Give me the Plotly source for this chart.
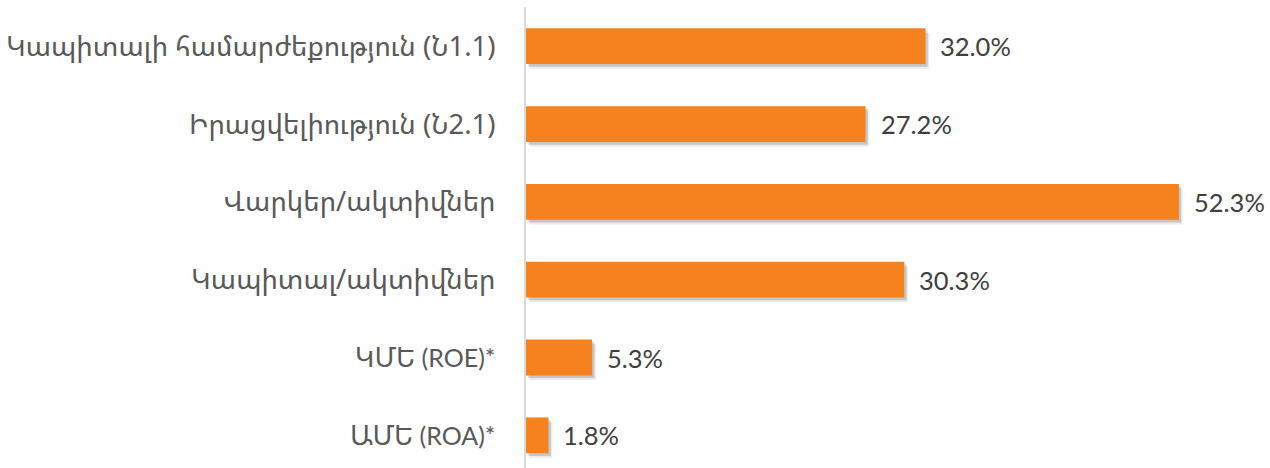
import plotly.graph_objects as go

categories = [
    "Կապիտալի համարժեքություն (Ն1.1)",
    "Իրացվելիություն (Ն2.1)",
    "Վարկեր/ակտիվներ",
    "Կապիտալ/ակտիվներ",
    "ԿՄԵ",
    "ԱՄԵ",
]
category_suffix = ["", "", "", "", " (ROE)*", " (ROA)*"]
values = [32.0, 27.2, 52.3, 30.3, 5.3, 1.8]
value_labels = ["32.0%", "27.2%", "52.3%", "30.3%", "5.3%", "1.8%"]

ARM_FONT = "Noto Sans Armenian, Noto Sans, DejaVu Sans, sans-serif"
NUM_FONT = "Lato, Open Sans, sans-serif"

ticktext = []
for c, s in zip(categories, category_suffix):
    if s:
        ticktext.append(c + "<span style='font-size:25px;font-family:Lato'>" + s + "</span>")
    else:
        ticktext.append(c)

ypos = list(range(len(categories)))

fig = go.Figure()
# soft shadow layers
for alpha, dy, base in [(0.08, 0.06, 0.30), (0.16, 0.035, 0.18)]:
    fig.add_trace(go.Bar(
        x=values, y=ypos, orientation="h", base=base, width=0.46,
        offset=-0.23 + dy,
        marker=dict(color=f"rgba(0,0,0,{alpha})", line=dict(width=0)),
        hoverinfo="skip", showlegend=False,
    ))
fig.add_trace(go.Bar(
    x=values, y=ypos, orientation="h", width=0.46, offset=-0.23,
    marker=dict(color="#F5821F", line=dict(width=0)),
    showlegend=False,
))

for v, t, yy in zip(values, value_labels, ypos):
    fig.add_annotation(x=v, y=yy, text=t, showarrow=False, xanchor="left",
                       xshift=13, yanchor="middle",
                       font=dict(family=NUM_FONT, size=25.5, color="#404040"))

fig.update_layout(
    width=1270, height=468,
    margin=dict(l=526, r=0, t=7, b=0),
    paper_bgcolor="white", plot_bgcolor="white",
    barmode="overlay",
    xaxis=dict(range=[0, 59.6], visible=False, fixedrange=True),
    yaxis=dict(
        range=[5.42, -0.504], tickmode="array", tickvals=ypos, ticktext=ticktext,
        showline=True, linecolor="#D9D9D9", linewidth=2, showgrid=False,
        zeroline=False, ticks="", ticklabelstandoff=23,
        tickfont=dict(family=ARM_FONT, size=27.5, color="#595959"),
    ),
)

fig.write_html("out.html", config={"displayModeBar": False},
               post_script="document.body.style.margin='0';document.body.style.overflow='hidden';")
